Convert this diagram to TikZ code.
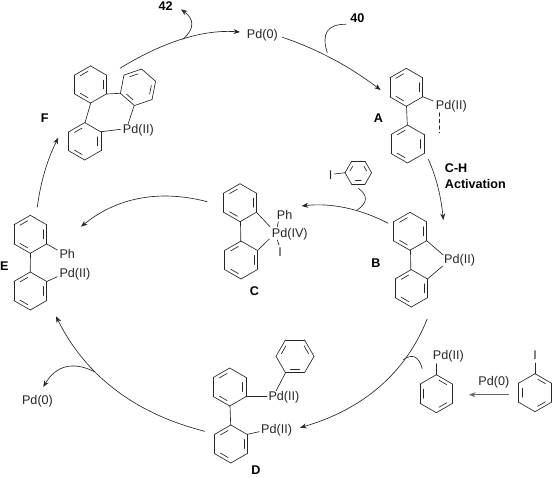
\documentclass[tikz,border=0pt]{standalone}
\usepackage{fontspec}
\setmainfont{Liberation Sans}
\usetikzlibrary{arrows.meta,calc}
\definecolor{ink}{gray}{0.15}
\tikzset{
  bondline/.style={draw=ink,line width=0.65pt,line cap=round},
  arc/.style={draw=ink,line width=0.65pt,-{Stealth[length=6.5pt,width=5pt]}},
  branch/.style={draw=ink,line width=0.65pt},
  chem/.style={inner sep=0pt,font=\fontsize{12.6}{14}\selectfont,text=ink},
  tag/.style={inner sep=0pt,font=\fontsize{12.6}{14}\selectfont\bfseries,text=black}
}
% \ring{cx}{cy}{radius}{start angle}{edges carrying the inner double-bond line}
\newcommand{\ring}[5]{%
  \foreach \k in {0,...,5}{%
    \pgfmathsetmacro{\aa}{#4+60*\k}%
    \pgfmathsetmacro{\bb}{#4+60*(\k+1)}%
    \draw[bondline] ({#1+#3*cos(\aa)},{#2-#3*sin(\aa)}) -- ({#1+#3*cos(\bb)},{#2-#3*sin(\bb)});
  }%
  \foreach \k in {#5}{%
    \pgfmathsetmacro{\mm}{#4+60*\k+30}%
    \pgfmathsetmacro{\rr}{(0.866*#3-3.4)/cos(19)}%
    \draw[bondline] ({#1+\rr*cos(\mm-19)},{#2-\rr*sin(\mm-19)}) -- ({#1+\rr*cos(\mm+19)},{#2-\rr*sin(\mm+19)});
  }%
}
\newcommand{\bond}[4]{\draw[bondline] (#1,#2) -- (#3,#4);}
% quadratic curve: \qcurve{style}{from}{control}{to}
\newcommand{\qcurve}[4]{\draw[#1] (#2) .. controls ($(#2)!0.667!(#3)$) and ($(#4)!0.667!(#3)$) .. (#4);}
\begin{document}
\begin{tikzpicture}[x=1pt,y=-1pt]
\useasboundingbox (0,0) rectangle (553,477);
% --- free ends of the connectors
\coordinate (f1) at (120,68.3);   \coordinate (p1) at (240,32);
\coordinate (p2) at (282.3,37.3); \coordinate (a1) at (380.7,90);
\coordinate (a2) at (428.3,159.3);\coordinate (b1) at (443.3,220);
\coordinate (b2) at (388.3,223.3);\coordinate (c1) at (301.7,206);
\coordinate (c2) at (207.3,201.7);\coordinate (e1) at (81,226.7);
\coordinate (e2) at (37.3,207.3); \coordinate (f2) at (58.3,137.7);
\coordinate (d2) at (205,431.3);  \coordinate (e3) at (56,316.3);
\coordinate (b3) at (427.3,318.7);\coordinate (d1) at (300,427.7);
\coordinate (j42) at (182.7,39.3);\coordinate (t42) at (181,9.3);
\coordinate (j40) at (327.3,52.7);\coordinate (t40) at (346,24.3);
\coordinate (jI) at (357.3,210);  \coordinate (tI) at (358.3,188.3);
\coordinate (jP) at (95,372);     \coordinate (tP) at (43.3,387);
\coordinate (jB) at (403.3,359.7);\coordinate (tB) at (422.3,368.7);
\coordinate (s1) at (509,394.7);  \coordinate (s2) at (469,394.7);
% --- text
\node[chem] (pd0top) at (262.3,35) {Pd(0)};
\node[tag] (n42) at (165.7,6) {42};
\node[tag] (n40) at (357.3,18.3) {40};
\node[tag] (lA) at (378.3,118.3) {A};
\node[tag] (lB) at (376,262.7) {B};
\node[tag] (lC) at (254.3,291) {C};
\node[tag] (lD) at (256,470.3) {D};
\node[tag] (lE) at (4.3,266) {E};
\node[tag] (lF) at (44.7,118) {F};
\node[tag,anchor=west] (ch) at (444.7,168.3) {C-H};
\node[tag,anchor=west] (act) at (444.7,184.3) {Activation};
\node[chem,anchor=west] (pdF) at (122.7,130) {Pd(II)};
\node[chem,anchor=west] (pdA) at (435.7,106.7) {Pd(II)};
\node[chem,anchor=west] (pdB) at (444,260.7) {Pd(II)};
\node[chem,anchor=west] (pdC) at (271.7,234) {Pd(IV)};
\node[chem,anchor=west] (phC) at (276.7,215) {Ph};
\node[chem] (iC) at (280,251.7) {I};
\node[chem,anchor=west] (phE) at (59.3,254.3) {Ph};
\node[chem,anchor=west] (pdE) at (59.3,274) {Pd(II)};
\node[chem,anchor=west] (pdD1) at (268.3,397.3) {Pd(II)};
\node[chem,anchor=west] (pdD2) at (261,430) {Pd(II)};
\node[chem] (pd0low) at (37.5,401) {Pd(0)};
\node[chem,anchor=west] (pdPh) at (432.7,356.3) {Pd(II)};
\node[chem] (iPh) at (535,355.3) {I};
\node[chem] (pd0arr) at (493.8,382.7) {Pd(0)};
\node[chem] (iTop) at (330.7,175) {I};
% --- F
\ring{90.5}{84.5}{18.6}{90}{0,2,4}
\ring{138}{87.3}{18.6}{79}{0,2,4}
\ring{84.7}{141.3}{18.7}{90}{0,2,4}
\bond{90.7}{103}{85}{122.7}
\bond{107}{94}{120}{93.3}
\bond{134}{106}{128.3}{123.5}
\bond{101}{131.7}{120.7}{129.3}
% --- A
\ring{406.3}{87.3}{19}{90}{0,2,4}
\ring{407.5}{144}{19}{90}{0,2,4}
\bond{406.5}{106.3}{407.3}{125}
\bond{422.7}{96.7}{433.3}{101}
\draw[bondline,dash pattern=on 3.5pt off 3pt] (439.3,112.7) -- (439.3,132.7);
% --- iodobenzene on the B to C arrow
\ring{358.3}{172.7}{13.3}{0}{0,2,4}
\bond{345}{172.7}{334.5}{174}
% --- B
\ring{410}{231.3}{19}{90}{0,2,4}
\ring{411.3}{288.3}{18.7}{90}{0,2,4}
\bond{410.5}{250}{410.8}{269.6}
\bond{426.7}{240.7}{443.3}{255}
\bond{427.5}{279}{442.7}{266}
% --- C
\ring{240}{202.7}{19}{90}{0,2,4}
\ring{241}{260}{19}{90}{0,2,4}
\bond{240.5}{221.7}{240.8}{241}
\bond{256.5}{212.3}{270}{226.7}
\bond{257.5}{250.5}{269.3}{239}
\bond{278.3}{221.7}{277.3}{226.7}
\bond{277.3}{240}{279}{245}
% --- E
\ring{30.3}{234.3}{19}{90}{0,2,4}
\ring{30.3}{291}{19}{90}{0,2,4}
\bond{30.5}{253.3}{30.2}{272}
\bond{46.7}{244}{57.3}{250}
\bond{46.7}{281.5}{57.3}{276.7}
% --- D
\ring{229.7}{387}{19}{90}{0,2,4}
\ring{230.8}{444}{19}{90}{0,2,4}
\ring{295}{356.3}{19}{0}{0,2,4}
\bond{230}{406}{230.7}{425}
\bond{246}{396.7}{266.7}{396.7}
\bond{247.3}{434.3}{259.3}{431.7}
\bond{285.5}{372.7}{276}{391}
% --- aryl palladium and iodobenzene
\ring{436.3}{393.7}{19}{90}{1,3,5}
\bond{436.3}{374.7}{436.3}{363.7}
\ring{535}{392.7}{19}{90}{1,3,5}
\bond{535}{373.7}{535}{363}
% --- connectors
\qcurve{arc}{f1}{185.4,28}{p1}
\qcurve{arc}{p2}{333,54}{a1}
\qcurve{arc}{a2}{440,185}{b1}
\qcurve{arc}{b2}{345,201}{c1}
\qcurve{arc}{c2}{135,183}{e1}
\qcurve{arc}{e2}{42,170}{f2}
\qcurve{arc}{d2}{100,405}{e3}
\qcurve{arc}{b3}{395,400}{d1}
\draw[arc,draw=ink!70,line width=1pt] (s1) -- (s2);
\qcurve{arc}{j42}{201,24}{t42}
\qcurve{arc}{jP}{62,355}{tP}
\qcurve{branch}{j40}{318,24}{t40}
\qcurve{branch}{jI}{373,199}{tI}
\qcurve{branch}{jB}{417,350}{tB}
\end{tikzpicture}
\end{document}
